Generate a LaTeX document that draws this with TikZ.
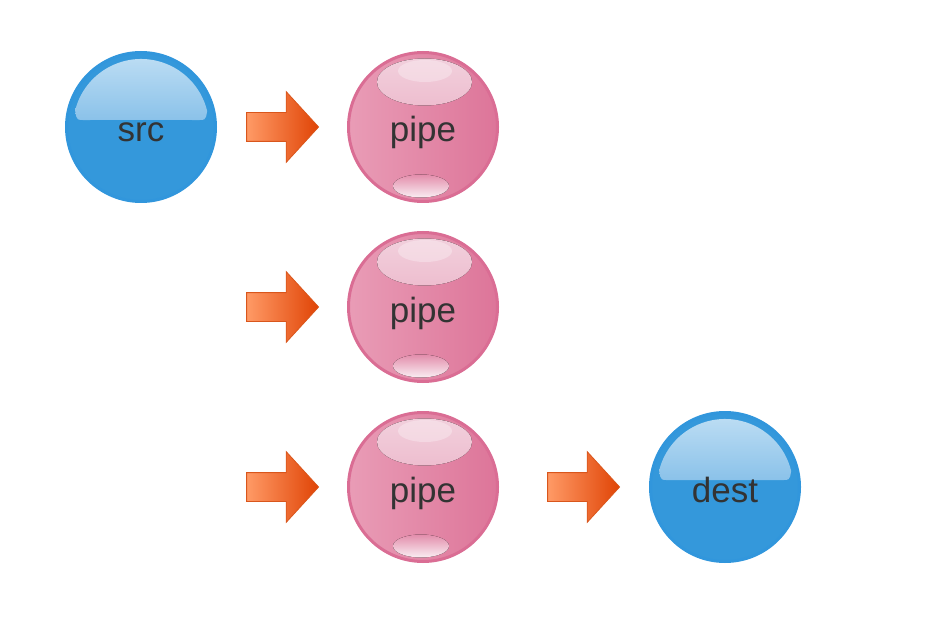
\documentclass[tikz,border=0pt]{standalone}
\usepackage{fontspec}
\setmainfont{Liberation Sans}
\usetikzlibrary{shapes.arrows}

\definecolor{ballblue}{HTML}{3498DB}
\definecolor{blueedge}{HTML}{3196DC}
\definecolor{bluehitop}{HTML}{C0DFF4}
\definecolor{bluehibot}{HTML}{4A9FDD}
\definecolor{pinkleft}{HTML}{E99CB6}
\definecolor{pinkright}{HTML}{DD7599}
\definecolor{pinkedge}{HTML}{DA6D94}
\definecolor{pinkhitop}{HTML}{F2D2DE}
\definecolor{pinkhibot}{HTML}{E699B4}
\definecolor{pinklotop}{HTML}{E38DAB}
\definecolor{pinklobot}{HTML}{FAEDF2}
\definecolor{arrowleft}{HTML}{FF9A66}
\definecolor{arrowright}{HTML}{E04406}
\definecolor{arrowedge}{HTML}{D9561C}
\definecolor{txtgray}{HTML}{333333}

\tikzset{
    ball/.style={circle, minimum size=149pt, inner sep=0pt, line width=3pt,
        text=txtgray, font=\fontsize{35}{42}\selectfont,
        text height=30pt, text depth=0pt},
    blueball/.style={ball, fill=ballblue, draw=blueedge,
        path picture={
            \fill[top color=bluehitop, bottom color=bluehibot]
                ([shift={(-66,16)}]path picture bounding box.center)
                arc[start angle=166.4, end angle=13.6, radius=68]
                .. controls +(-2,-10) and +(16,0) .. ++(-16,-9)
                -- ++(-100,0)
                .. controls +(-16,0) and +(2,-10) .. ++(-16,9) -- cycle;
        }},
    pinkball/.style={ball, left color=pinkleft, right color=pinkright, draw=pinkedge,
        path picture={
            \fill[top color=pinkhitop, bottom color=pinkhibot]
                ([shift={(1.5,45)}]path picture bounding box.center)
                ellipse[x radius=47.5, y radius=23.5];
            \fill[white, opacity=.3]
                ([shift={(2,56)}]path picture bounding box.center)
                ellipse[x radius=27, y radius=11];
            \fill[top color=pinklotop, bottom color=pinklobot]
                ([shift={(-2,-59)}]path picture bounding box.center)
                ellipse[x radius=28, y radius=11.5];
        }},
    blockarrow/.style={single arrow, inner sep=0pt, inner ysep=14pt,
        minimum height=72pt, minimum width=0pt,
        single arrow head extend=21pt, single arrow tip angle=95,
        left color=arrowleft, right color=arrowright,
        draw=arrowedge, line width=.8pt}
}

\begin{document}
\begin{tikzpicture}[x=1pt,y=1pt]
    \useasboundingbox (0,0) rectangle (936,638);

    % balls
    \node[blueball] (src) at (141,511) {src};
    \node[pinkball] (pipeA) at (423,511) {pipe};
    \node[pinkball] (pipeB) at (423,331) {pipe};
    \node[pinkball] (pipeC) at (423,151) {pipe};
    \node[blueball] (dest) at (725,151) {dest};

    % block arrows
    \node[blockarrow] (arrA) at (276,511) {};
    \node[blockarrow] (arrB) at (276,331) {};
    \node[blockarrow] (arrC) at (276,151) {};
    \node[blockarrow] (arrD) at (577,151) {};
\end{tikzpicture}
\end{document}
